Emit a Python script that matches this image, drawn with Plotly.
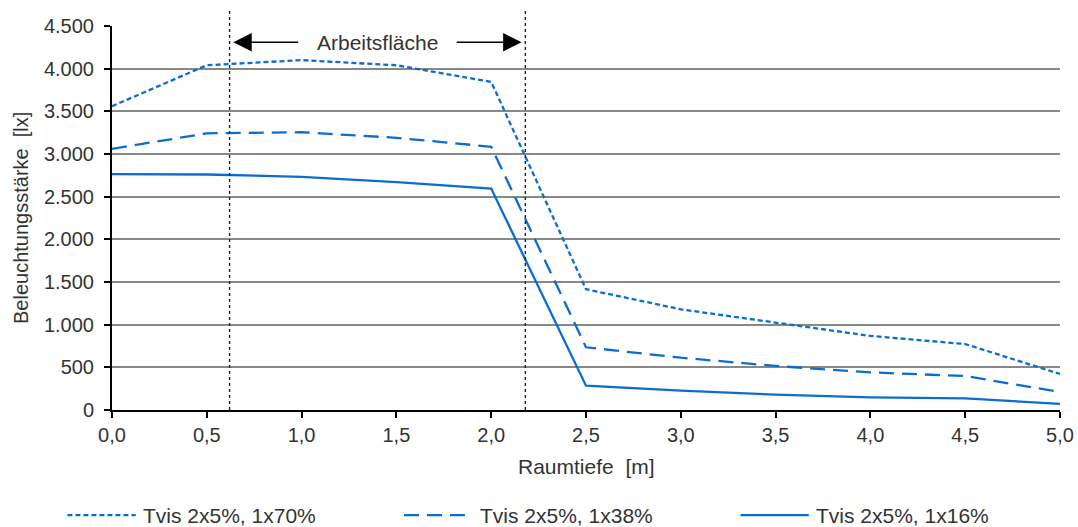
import plotly.graph_objects as go

x_vals = [0.0, 0.5, 1.0, 1.5, 2.0, 2.5, 3.0, 3.5, 4.0, 4.5, 5.0]
s70 = [3560, 4040, 4100, 4040, 3845, 1415, 1180, 1025, 868, 773, 422]
s38 = [3060, 3242, 3255, 3190, 3085, 735, 613, 516, 441, 398, 211]
s16 = [2765, 2760, 2732, 2670, 2595, 285, 227, 180, 148, 137, 72]
names = ["Tvis 2x5%, 1x70%", "Tvis 2x5%, 1x38%", "Tvis 2x5%, 1x16%"]

x_ticks = [0.0, 0.5, 1.0, 1.5, 2.0, 2.5, 3.0, 3.5, 4.0, 4.5, 5.0]
x_ticktext = ["0,0", "0,5", "1,0", "1,5", "2,0", "2,5", "3,0", "3,5", "4,0", "4,5", "5,0"]
y_ticks = [0, 500, 1000, 1500, 2000, 2500, 3000, 3500, 4000, 4500]
y_ticktext = ["0", "500", "1.000", "1.500", "2.000", "2.500", "3.000", "3.500", "4.000", "4.500"]

x_title = "Raumtiefe\u00a0\u00a0[m]"
y_title = "Beleuchtungsstärke\u00a0\u00a0[lx]"

work_start, work_end = 0.62, 2.18
arrow_y = 4310
label = "Arbeitsfläche"

blue = "#0a6ed1"
txt = "#333333"
font = "Liberation Sans, Arial, sans-serif"
dashes = ["5px,3px", "15px,8px", "solid"]

fig = go.Figure()
for vals, name, dash in zip([s70, s38, s16], names, dashes):
    fig.add_trace(go.Scatter(x=x_vals, y=vals, mode="lines", name=name,
                             line=dict(color=blue, width=2.3, dash=dash)))

for xv in [work_start, work_end]:
    fig.add_shape(type="line", xref="x", yref="paper", x0=xv, x1=xv, y0=0, y1=1.042,
                  line=dict(color="#222", width=1.4, dash="3px,3px"))

fig.add_annotation(x=0.64, y=arrow_y, ax=0.99, ay=arrow_y, xref="x", yref="y", axref="x", ayref="y",
                   text="", showarrow=True, arrowhead=2, arrowsize=2.3, arrowwidth=1.6, arrowcolor="black")
fig.add_annotation(x=2.16, y=arrow_y, ax=1.81, ay=arrow_y, xref="x", yref="y", axref="x", ayref="y",
                   text="", showarrow=True, arrowhead=2, arrowsize=2.3, arrowwidth=1.6, arrowcolor="black")
fig.add_annotation(x=1.4, y=arrow_y, xref="x", yref="y", text=label, showarrow=False,
                   font=dict(family=font, size=21, color=txt))

# axis titles
fig.add_annotation(xref="paper", yref="paper", x=0.5, y=-0.148, xanchor="center", yanchor="middle",
                   text=x_title, showarrow=False, font=dict(family=font, size=21, color=txt))
fig.add_annotation(xref="paper", yref="paper", x=-0.096, y=0.5, xanchor="center", yanchor="middle",
                   text=y_title, textangle=-90, showarrow=False, font=dict(family=font, size=20, color=txt))

# manual legend (long line samples as in the reference)
leg_y = -0.274
leg_x0 = [-0.047, 0.308, 0.663]
for x0, name, dash in zip(leg_x0, names, dashes):
    fig.add_shape(type="line", xref="paper", yref="paper", x0=x0, x1=x0 + 0.072, y0=leg_y, y1=leg_y,
                  line=dict(color=blue, width=2.3, dash=dash))
    fig.add_annotation(xref="paper", yref="paper", x=x0 + 0.078, y=leg_y, xanchor="left", yanchor="middle",
                       text=name, showarrow=False, font=dict(family=font, size=21, color=txt))

fig.update_layout(
    width=1078, height=527,
    margin=dict(l=112, r=18, t=26, b=117),
    paper_bgcolor="white", plot_bgcolor="white",
    font=dict(family=font, size=20, color=txt),
    showlegend=False,
)
fig.update_xaxes(range=[0, 5], tickvals=x_ticks, ticktext=x_ticktext, showgrid=False,
                 showline=True, linecolor="black", linewidth=2, ticks="outside", ticklen=6,
                 tickcolor="black", tickwidth=1.5, zeroline=False, automargin=False,
                 tickfont=dict(size=20, color=txt))
fig.update_yaxes(range=[0, 4500], tickvals=y_ticks, ticktext=y_ticktext, showgrid=True,
                 gridcolor="#888", gridwidth=1.6, showline=True, linecolor="black", linewidth=2,
                 ticks="outside", ticklen=6, tickcolor="black", tickwidth=1.5, zeroline=False,
                 ticklabelstandoff=6, automargin=False,
                 tickfont=dict(size=20, color=txt))

# remove the browser's default 8px body margin so the figure fills the window exactly
fig.write_html("out.html", config={"displayModeBar": False},
               post_script="document.body.style.margin='0';document.body.style.overflow='hidden';")
